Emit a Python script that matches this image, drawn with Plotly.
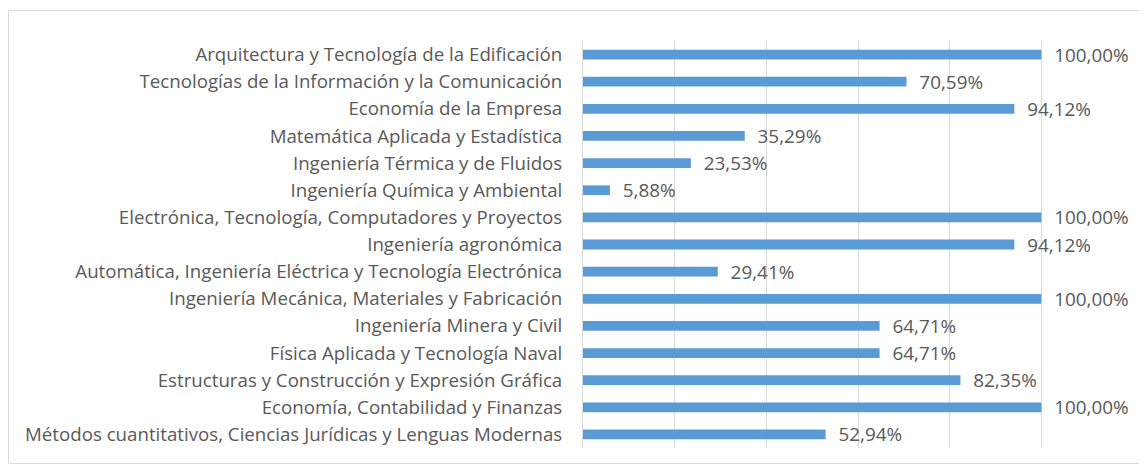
import plotly.graph_objects as go

categories = [
    "Arquitectura y Tecnología de la Edificación",
    "Tecnologías de la Información y la Comunicación",
    "Economía de la Empresa",
    "Matemática Aplicada y Estadística",
    "Ingeniería Térmica y de Fluidos",
    "Ingeniería Química y Ambiental",
    "Electrónica, Tecnología, Computadores y Proyectos",
    "Ingeniería agronómica",
    "Automática, Ingeniería Eléctrica y Tecnología Electrónica",
    "Ingeniería Mecánica, Materiales y Fabricación",
    "Ingeniería Minera y Civil",
    "Física Aplicada y Tecnología Naval",
    "Estructuras y Construcción y Expresión Gráfica",
    "Economía, Contabilidad y Finanzas",
    "Métodos cuantitativos, Ciencias Jurídicas y Lenguas Modernas",
]
values = [1.0, 0.7059, 0.9412, 0.3529, 0.2353, 0.0588, 1.0, 0.9412, 0.2941,
          1.0, 0.6471, 0.6471, 0.8235, 1.0, 0.5294]

# page is offset by the default 8px body margin
OFF = 8
W, H = 1147 - OFF, 468 - OFF
L, T = 583 - OFF, 41 - OFF
R = W - (1133 - OFF)
B = H - (448 - OFF)
pw, ph = W - L - R, H - T - B

font_family = "'Open Sans', sans-serif"
txt_color = "#595959"

fig = go.Figure(go.Bar(
    x=values, y=categories, orientation="h",
    marker=dict(color="#5B9BD5", line=dict(width=0)),
    width=0.36,
    texttemplate="  %{x:.2%}", textposition="outside",
    constraintext="none",
    textfont=dict(family=font_family, size=18.9, color=txt_color),
    cliponaxis=False,
))

def px2paper_x(px):
    return (px - OFF - L) / pw

def px2paper_y(py):
    return (H - B - (py - OFF)) / ph

fig.update_layout(
    width=W, height=H,
    margin=dict(l=L, r=R, t=T, b=B, autoexpand=False),
    paper_bgcolor="white", plot_bgcolor="white",
    separators=",.",
    showlegend=False,
    font=dict(family=font_family, size=18.7, color=txt_color),
    xaxis=dict(range=[0, 1.2], dtick=0.2, showticklabels=False,
               showgrid=True, gridcolor="#d9d9d9", gridwidth=1,
               zeroline=False, showline=False, fixedrange=True),
    yaxis=dict(autorange="reversed", showgrid=False, zeroline=False,
               showline=True, linecolor="#d9d9d9", linewidth=1,
               ticks="", ticklabelstandoff=16,
               tickfont=dict(family=font_family, size=18.7, color=txt_color)),
    shapes=[dict(type="rect", xref="paper", yref="paper",
                 x0=px2paper_x(8.5), x1=px2paper_x(1140.5),
                 y0=px2paper_y(463.5), y1=px2paper_y(10.5),
                 line=dict(color="#d9d9d9", width=1), layer="below")],
)

fig.write_html("out.html")
